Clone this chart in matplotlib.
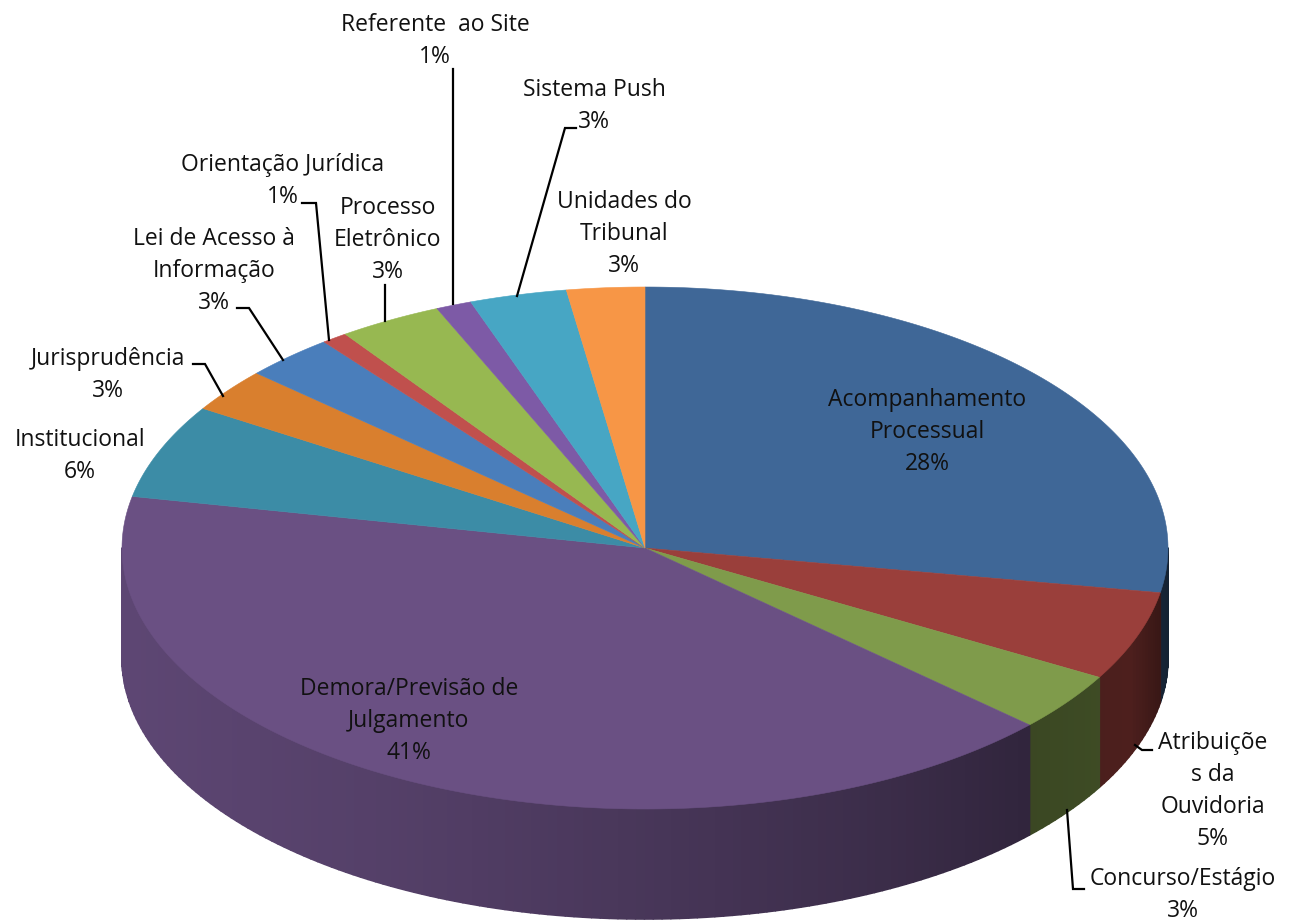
import numpy as np
import matplotlib
matplotlib.use("Agg")
import matplotlib.pyplot as plt
from matplotlib.collections import PolyCollection
from matplotlib.patches import Polygon

plt.rcParams['font.family'] = ['Open Sans', 'DejaVu Sans']

# slice shares, clockwise from 12 o'clock
categories = ["Acompanhamento Processual", "Atribuições da Ouvidoria", "Concurso/Estágio",
              "Demora/Previsão de Julgamento", "Institucional", "Jurisprudência",
              "Lei de Acesso à Informação", "Orientação Jurídica", "Processo Eletrônico",
              "Referente ao Site", "Sistema Push", "Unidades do Tribunal"]
shares = [27.7, 5.5, 3.6, 41.25, 5.8, 2.7, 2.8, 0.8, 3.2, 1.1, 3.0, 2.4]
percent_labels = ["28%", "5%", "3%", "41%", "6%", "3%", "3%", "1%", "3%", "1%", "3%", "3%"]
colors = ["#3F6797", "#9A3F3B", "#7F9B4B", "#6A5083", "#3C8CA6", "#D97F2E",
          "#4A7EBB", "#C0504D", "#97B851", "#7D5AA6", "#47A6C4", "#F79646"]

# pie geometry, in image pixels
CX, CY = 645, 548
RX, RY = 523, 261
DEPTH = 110

# (label lines, centre x, y of first line)
label_layout = [
    (["Acompanhamento", "Processual"], 927, 400),
    (["Atribuiçõe", "s da", "Ouvidoria"], 1213, 743),
    (["Concurso/Estágio"], 1183, 879),
    (["Demora/Previsão de", "Julgamento"], 409, 689),
    (["Institucional"], 80, 440),
    (["Jurisprudência"], 108, 359),
    (["Lei de Acesso à", "Informação"], 214, 239),
    (["Orientação Jurídica"], 283, 165),
    (["Processo", "Eletrônico"], 388, 208),
    (["Referente  ao Site"], 435, 25),
    (["Sistema Push"], 594, 90),
    (["Unidades do", "Tribunal"], 624, 202),
]

leaders = [
    [(1152, 750), (1142, 750), (1135, 745)],
    [(1067, 810), (1073, 889), (1084, 889)],
    [(193, 364), (205, 364), (223, 396)],
    [(237, 308), (249, 308), (283, 360)],
    [(302, 203), (316, 203), (329, 340)],
    [(385, 285), (385, 321)],
    [(453, 69), (453, 304)],
    [(576, 128), (565, 128), (517, 296)],
]


def rim(angles, drop=0):
    # angles in radians clockwise from the top of the ellipse
    return CX + RX * np.sin(angles), CY - RY * np.cos(angles) + drop


def wall_shade(x):
    return np.interp(x, [122, 400, 645, 900, 1030, 1130, 1168], [0.88, 0.79, 0.68, 0.55, 0.46, 0.5, 0.33])


fig = plt.figure(figsize=(12.9, 9.23), dpi=100)
ax = fig.add_axes([0, 0, 1, 1])
ax.set_xlim(0, 1290)
ax.set_ylim(923, 0)
ax.axis('off')

edges = np.concatenate([[0], np.cumsum(shares)]) / np.sum(shares) * 2 * np.pi

# outer wall, cut in narrow strips so it can darken towards the right
strips = []
strip_colors = []
for i in range(len(shares)):
    start = max(edges[i], np.pi / 2)
    end = min(edges[i + 1], 3 * np.pi / 2)
    if end <= start:
        continue
    steps = np.linspace(start, end, max(2, int((end - start) * 60)))
    base = np.array(matplotlib.colors.to_rgb(colors[i]))
    for a, b in zip(steps[:-1], steps[1:]):
        xa, ya = rim(a)
        xb, yb = rim(b)
        strips.append([(xa, ya), (xb, yb), (xb, yb + DEPTH), (xa, ya + DEPTH)])
        strip_colors.append(base * wall_shade((xa + xb) / 2))
ax.add_collection(PolyCollection(strips, facecolors=strip_colors, edgecolors=strip_colors, linewidths=1.2))

# top face
for i in range(len(shares)):
    t = np.linspace(edges[i], edges[i + 1], 200)
    xs, ys = rim(t)
    pts = np.vstack([[CX, CY], np.column_stack([xs, ys])])
    ax.add_patch(Polygon(pts, closed=True, facecolor=colors[i], edgecolor=colors[i], linewidth=0.4))

for path in leaders:
    px, py = zip(*path)
    ax.plot(px, py, color="black", linewidth=1.6, solid_joinstyle="miter")

LINE_STEP = 32
for (lines, cx, y0), pct in zip(label_layout, percent_labels):
    for j, line in enumerate(lines + [pct]):
        ax.text(cx, y0 + j * LINE_STEP, line, ha="center", va="center", fontsize=16.5, color="#111111")

fig.savefig("out.png", dpi=100)
